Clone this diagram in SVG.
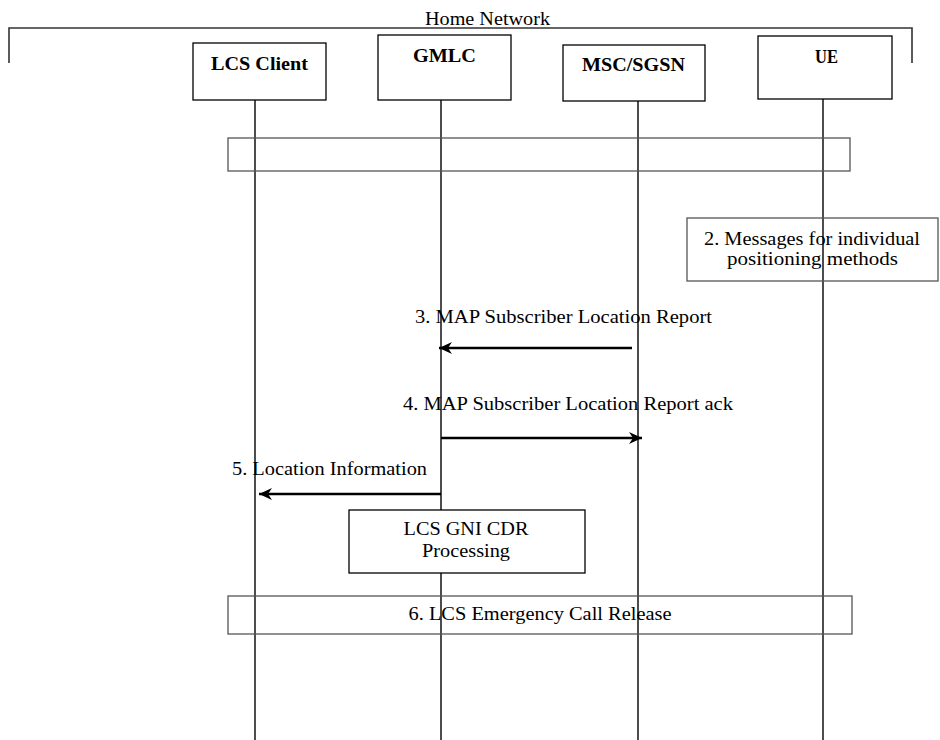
<svg xmlns="http://www.w3.org/2000/svg" width="940" height="740" viewBox="0 0 940 740">
<defs>
<marker id="ah" markerUnits="userSpaceOnUse" markerWidth="16" markerHeight="14" refX="13" refY="6" orient="auto">
<path d="M0,0 L13,6 L0,12 L4,6 z" fill="#000"/>
</marker>
<style>
.t{font-family:"Liberation Serif","Times New Roman",serif;font-size:18px;fill:#000;text-anchor:middle}
.b{font-weight:bold}
.box{fill:#fff;stroke:#000;stroke-width:1.3}
.ll{stroke:#000;stroke-width:1.4;fill:none}
.msg{stroke:#000;stroke-width:2.5;fill:none;marker-end:url(#ah)}
.br{stroke:#333;stroke-width:1.6;fill:none}
</style>
</defs>
<rect width="940" height="740" fill="#fff"/>
<g id="home-network">
<path class="br" d="M9,63 V28 H912 V63"/>
<text class="t" x="487.5" y="25" textLength="125" lengthAdjust="spacingAndGlyphs">Home Network</text>
</g>
<g id="lifelines">
<line class="ll" x1="255" y1="100" x2="255" y2="740"/>
<line class="ll" x1="441" y1="100" x2="441" y2="740"/>
<line class="ll" x1="638" y1="101" x2="638" y2="740"/>
<line class="ll" x1="823" y1="99" x2="823" y2="740"/>
</g>
<g id="lcs-client">
<rect class="box" x="193" y="43" width="133" height="57"/>
<text class="t b" x="259.5" y="70" textLength="97" lengthAdjust="spacingAndGlyphs">LCS Client</text>
</g>
<g id="gmlc">
<rect class="box" x="378" y="35" width="133" height="65"/>
<text class="t b" x="444.5" y="62" textLength="63" lengthAdjust="spacingAndGlyphs">GMLC</text>
</g>
<g id="msc-sgsn">
<rect class="box" x="563" y="45" width="142" height="56"/>
<text class="t b" x="633.5" y="71" textLength="103" lengthAdjust="spacingAndGlyphs">MSC/SGSN</text>
</g>
<g id="ue">
<rect class="box" x="758" y="36" width="134" height="63"/>
<text class="t b" x="826.5" y="63" textLength="23" lengthAdjust="spacingAndGlyphs">UE</text>
</g>
<g id="step1">
<rect x="228" y="138" width="622" height="33" fill="none" stroke="#555" stroke-width="1.3"/>
</g>
<g id="step2">
<rect x="687" y="218" width="251" height="63" fill="none" stroke="#555" stroke-width="1.3"/>
<text class="t" x="812" y="245" textLength="216" lengthAdjust="spacingAndGlyphs">2. Messages for individual</text>
<text class="t" x="812.5" y="265" textLength="171" lengthAdjust="spacingAndGlyphs">positioning  methods</text>
</g>
<g id="connectors">
<line class="msg" x1="632" y1="348" x2="439" y2="348"/>
<line class="msg" x1="441" y1="438" x2="642" y2="438"/>
<line class="msg" x1="441" y1="494" x2="259" y2="494"/>
<text class="t" x="563.5" y="323" textLength="297" lengthAdjust="spacingAndGlyphs">3. MAP Subscriber Location Report</text>
<text class="t" x="568" y="410" textLength="330" lengthAdjust="spacingAndGlyphs">4. MAP Subscriber Location Report ack</text>
<text class="t" x="329.5" y="475" textLength="195" lengthAdjust="spacingAndGlyphs">5. Location Information</text>
</g>
<g id="cdr">
<rect class="box" x="349" y="510" width="236" height="63"/>
<text class="t" x="466" y="535" textLength="125" lengthAdjust="spacingAndGlyphs">LCS GNI CDR</text>
<text class="t" x="466" y="557" textLength="88" lengthAdjust="spacingAndGlyphs">Processing</text>
</g>
<g id="step6">
<rect x="228" y="596" width="624" height="38" fill="none" stroke="#555" stroke-width="1.3"/>
<text class="t" x="540" y="620" textLength="263" lengthAdjust="spacingAndGlyphs">6. LCS Emergency Call Release</text>
</g>
</svg>
